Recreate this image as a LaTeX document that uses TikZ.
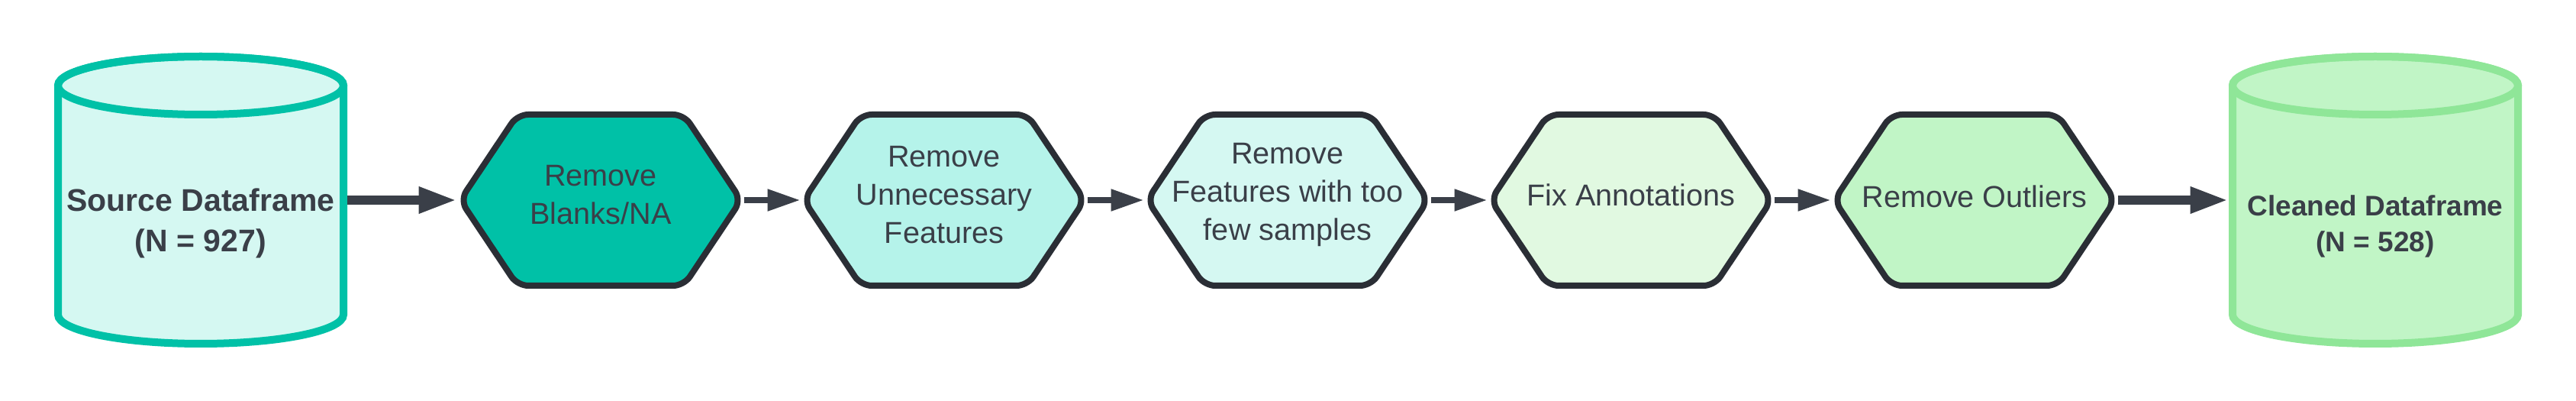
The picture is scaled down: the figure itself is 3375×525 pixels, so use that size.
\documentclass[tikz,border=0pt]{standalone}
\usepackage{fontspec}
\setmainfont{Liberation Sans}
\usetikzlibrary{arrows.meta,calc}
\definecolor{ink}{HTML}{3A3F48}
\definecolor{hexline}{HTML}{2A2E35}
\definecolor{tealfill}{HTML}{00C1A7}
\definecolor{mintfill}{HTML}{D5F8F2}
\definecolor{aquafill}{HTML}{B5F3EA}
\definecolor{palefill}{HTML}{E1F9E1}
\definecolor{lgreenfill}{HTML}{C1F5C6}
\definecolor{gline}{HTML}{8FE698}
\newcommand\hexshape[2]{%
  \draw[hexpath, fill=#2] ($(#1.center)+(-184,0)$) -- ($(#1.center)+(-109,112)$) -- ($(#1.center)+(109,112)$) -- ($(#1.center)+(184,0)$) -- ($(#1.center)+(109,-112)$) -- ($(#1.center)+(-109,-112)$) -- cycle;}
\newcommand\cylshape[3]{%
  \draw[line width=5pt, draw=#3, fill=#2] ($(#1.center)+(-187,150)$) arc[start angle=180,end angle=0,x radius=187,y radius=38] -- ++(0,-300) arc[start angle=0,end angle=-180,x radius=187,y radius=38] -- cycle;
  \draw[line width=5pt, draw=#3] ($(#1.center)+(0,150)$) ellipse[x radius=187, y radius=38];}
\begin{document}
\begin{tikzpicture}[x=0.5pt,y=0.5pt,
  hexnode/.style={minimum width=188pt, minimum height=116pt, inner sep=0pt},
  hexlabel/.style={align=center, font=\fontsize{19.8}{25}\selectfont, text=ink, inner sep=0pt},
  hexpath/.style={draw=hexline, line width=4pt, rounded corners=7pt, line join=round},
  cylnode/.style={minimum width=192pt, minimum height=190pt, inner sep=0pt},
  cyllabel/.style={align=center, text=ink, inner sep=0pt},
  bigarrow/.style={draw=ink, line width=6pt, -{Triangle[length=25pt,width=16pt]}},
  smallarrow/.style={draw=ink, line width=4pt, -{Triangle[length=21.5pt,width=13.5pt]}},
]
\useasboundingbox (0,0) rectangle (3375,525);
% shape anchors
\node[cylnode] (src) at (263,263) {};
\node[cylnode] (dst) at (3112,263) {};
\node[hexnode] (h1) at (787,263) {};
\node[hexnode] (h2) at (1237,263) {};
\node[hexnode] (h3) at (1687,263) {};
\node[hexnode] (h4) at (2137,263) {};
\node[hexnode] (h5) at (2587,263) {};
% shapes
\cylshape{src}{mintfill}{tealfill}
\cylshape{dst}{lgreenfill}{gline}
\hexshape{h1}{tealfill}
\hexshape{h2}{aquafill}
\hexshape{h3}{mintfill}
\hexshape{h4}{palefill}
\hexshape{h5}{lgreenfill}
% labels
\node[cyllabel, font=\bfseries\fontsize{20.5}{26.5}\selectfont] (srct) at (263,233) {Source Dataframe\\(N = 927)};
\node[cyllabel, font=\bfseries\fontsize{18.5}{23.5}\selectfont] (dstt) at (3112,229) {Cleaned Dataframe\\(N = 528)};
\node[hexlabel] (t1) at (787,270) {Remove\\Blanks/NA};
\node[hexlabel] (t2) at (1237,270) {Remove\\Unnecessary\\Features};
\node[hexlabel] (t3) at (1687,270) {Remove\\Features with too\\few samples};
\node[hexlabel] (t4) at (2137,270) {Fix Annotations};
\node[hexlabel] (t5) at (2587,268) {Remove Outliers};
% connectors
\draw[bigarrow] (src.east) -- (h1.west);
\draw[smallarrow] (h1.east) -- (h2.west);
\draw[smallarrow] (h2.east) -- (h3.west);
\draw[smallarrow] (h3.east) -- (h4.west);
\draw[smallarrow] (h4.east) -- (h5.west);
\draw[bigarrow] (h5.east) -- (dst.west);
\end{tikzpicture}
\end{document}
